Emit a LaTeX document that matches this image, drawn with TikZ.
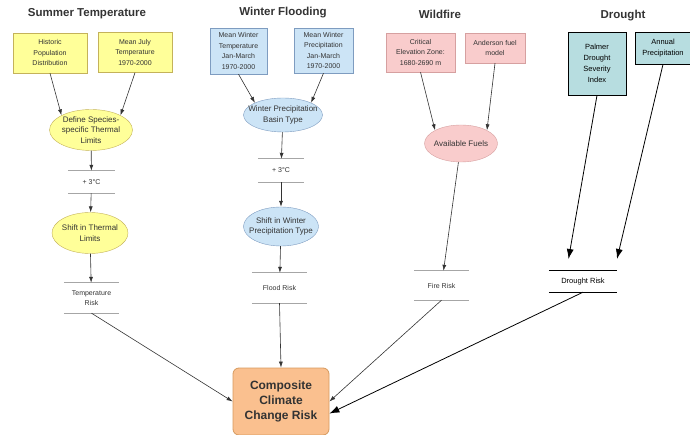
\documentclass[tikz,border=0pt]{standalone}
\usepackage{fontspec}
\setmainfont{Liberation Sans}
\usetikzlibrary{arrows.meta}
\usetikzlibrary{shapes.geometric}
\definecolor{yfill}{HTML}{FFFF99}
\definecolor{ydraw}{HTML}{C4B25A}
\definecolor{bfill}{HTML}{CCE4F6}
\definecolor{bdraw}{HTML}{7E9CC0}
\definecolor{pfill}{HTML}{F9CCCC}
\definecolor{pdraw}{HTML}{D6A0A0}
\definecolor{tfill}{HTML}{B7DDE0}
\definecolor{ofill}{HTML}{FAC08F}
\definecolor{odraw}{HTML}{D69A5E}
\definecolor{ink}{HTML}{333333}
\begin{document}
\begin{tikzpicture}[
                x=1pt, y=-1pt,
                title/.style={font=\fontsize{11.5}{13}\selectfont\bfseries, text=ink},
                box/.style={draw, rectangle, inner sep=1pt, align=center, text=ink, font=\fontsize{7}{10.5}\selectfont},
                ell/.style={draw, ellipse, inner xsep=-12pt, inner ysep=0pt, align=center, text=ink, font=\fontsize{8}{10.5}\selectfont},
                store/.style={inner sep=0pt, align=center, text=ink, font=\fontsize{7}{10.5}\selectfont},
                arrow/.style={-{Latex[length=6pt, width=4pt]}, draw=ink, line width=0.6pt},
                darrow/.style={-{Latex[length=10pt, width=7pt]}, draw=black, line width=0.8pt}
            ]
            \useasboundingbox (0, 0) rectangle (690, 435);
            % titles
            \node[title] (tsum) at (87, 14) {Summer Temperature};
            \node[title] (twin) at (283, 13) {Winter Flooding};
            \node[title] (tfire) at (440, 14) {Wildfire};
            \node[title] (tdry) at (623, 16) {Drought};
            % summer temperature
            \node[box, fill=yfill, draw=ydraw, minimum width=74, minimum height=40] (hist) at (50, 53) {Historic\\Population\\Distribution};
            \node[box, fill=yfill, draw=ydraw, minimum width=74, minimum height=40] (july) at (135, 52.5) {Mean July\\Temperature\\1970-2000};
            \node[ell, fill=yfill, draw=ydraw, minimum width=83, minimum height=41] (def) at (91, 130) {Define Species-\\specific Thermal\\Limits};
            \node[store, minimum width=47, minimum height=22] (plusa) at (91.5, 182) {+ 3°C};
            \node[ell, fill=yfill, draw=ydraw, minimum width=76, minimum height=41] (shift) at (90, 233) {Shift in Thermal\\Limits};
            \node[store, minimum width=55, minimum height=30] (trisk) at (91.5, 298) {Temperature\\Risk};
            % winter flooding
            \node[box, fill=bfill, draw=bdraw, minimum width=57, minimum height=46] (wtemp) at (238.5, 51) {Mean Winter\\Temperature\\Jan-March\\1970-2000};
            \node[box, fill=bfill, draw=bdraw, minimum width=59, minimum height=45] (wprec) at (323.5, 50.5) {Mean Winter\\Precipitation\\Jan-March\\1970-2000};
            \node[ell, fill=bfill, draw=bdraw, minimum width=79, minimum height=34] (basin) at (283, 115) {Winter Precipitation\\Basin Type};
            \node[store, minimum width=46, minimum height=23] (plusb) at (281, 170.5) {+ 3°C};
            \node[ell, fill=bfill, draw=bdraw, minimum width=75, minimum height=39] (wshift) at (281, 226.5) {Shift in Winter\\Precipitation Type};
            \node[store, minimum width=55, minimum height=30] (frisk) at (279.5, 288) {Flood Risk};
            % wildfire
            \node[box, fill=pfill, draw=pdraw, minimum width=69, minimum height=39] (crit) at (420.5, 52.5) {Critical\\Elevation Zone:\\1680-2690 m};
            \node[box, fill=pfill, draw=pdraw, minimum width=60, minimum height=30] (ander) at (495, 48) {Anderson fuel\\model};
            \node[ell, fill=pfill, draw=pdraw, minimum width=73, minimum height=37] (fuels) at (461, 143.5) {Available Fuels};
            \node[store, minimum width=55, minimum height=29] (firisk) at (441.5, 285.5) {Fire Risk};
            % drought
            \node[box, fill=tfill, draw=black, line width=0.7pt, text=black, font=\fontsize{7.5}{11}\selectfont, minimum width=58, minimum height=63] (palmer) at (597, 63.5) {Palmer\\Drought\\Severity\\Index};
            \node[box, fill=tfill, draw=black, line width=0.7pt, text=black, font=\fontsize{7.5}{11}\selectfont, minimum width=56, minimum height=32] (annual) at (663, 48) {Annual\\Precipitation};
            \node[store, text=black, font=\fontsize{7.5}{10.5}\selectfont, minimum width=68, minimum height=21] (drisk) at (583, 281.5) {Drought Risk};
            \coordinate (dtipa) at (568.5, 259);
            \coordinate (dtipb) at (617, 259);
            % composite
            \node[draw=odraw, fill=ofill, rounded corners=6, line width=0.8pt, align=center, text=ink, font=\fontsize{12}{15}\selectfont\bfseries, minimum width=96, minimum height=67] (comp) at (281, 401.5) {Composite\\Climate\\Change Risk};
            % lines above and below the stored values
            \foreach \n in {plusa, plusb, trisk, frisk, firisk}
                \draw[gray!70, line width=0.7pt] (\n.north west) -- (\n.north east) (\n.south west) -- (\n.south east);
            \draw[black, line width=0.8pt] (drisk.north west) -- (drisk.north east) (drisk.south west) -- (drisk.south east);
            % connectors
            \draw[arrow] (hist.south) -- (def.north west);
            \draw[arrow] (july.south) -- (def.north east);
            \draw[arrow] (def) -- (plusa);
            \draw[arrow] (plusa) -- (shift);
            \draw[arrow] (shift) -- (trisk);
            \draw[arrow] (trisk.south) -- (comp.west);
            \draw[arrow] (wtemp.south) -- (basin.north west);
            \draw[arrow] (wprec.south) -- (basin.north east);
            \draw[arrow] (basin) -- (plusb);
            \draw[arrow] (plusb) -- (wshift);
            \draw[arrow] (wshift) -- (frisk);
            \draw[arrow] (frisk.south) -- (comp.north);
            \draw[arrow] (crit.south) -- (fuels.north west);
            \draw[arrow] (ander.south) -- (fuels.north east);
            \draw[arrow] (fuels) -- (firisk);
            \draw[arrow] (firisk.south) -- (comp.east);
            \draw[darrow] (palmer.south) -- (dtipa);
            \draw[darrow] (annual.south) -- (dtipb);
            \draw[darrow] (drisk.south) -- (comp.-14);
        \end{tikzpicture}
\end{document}
